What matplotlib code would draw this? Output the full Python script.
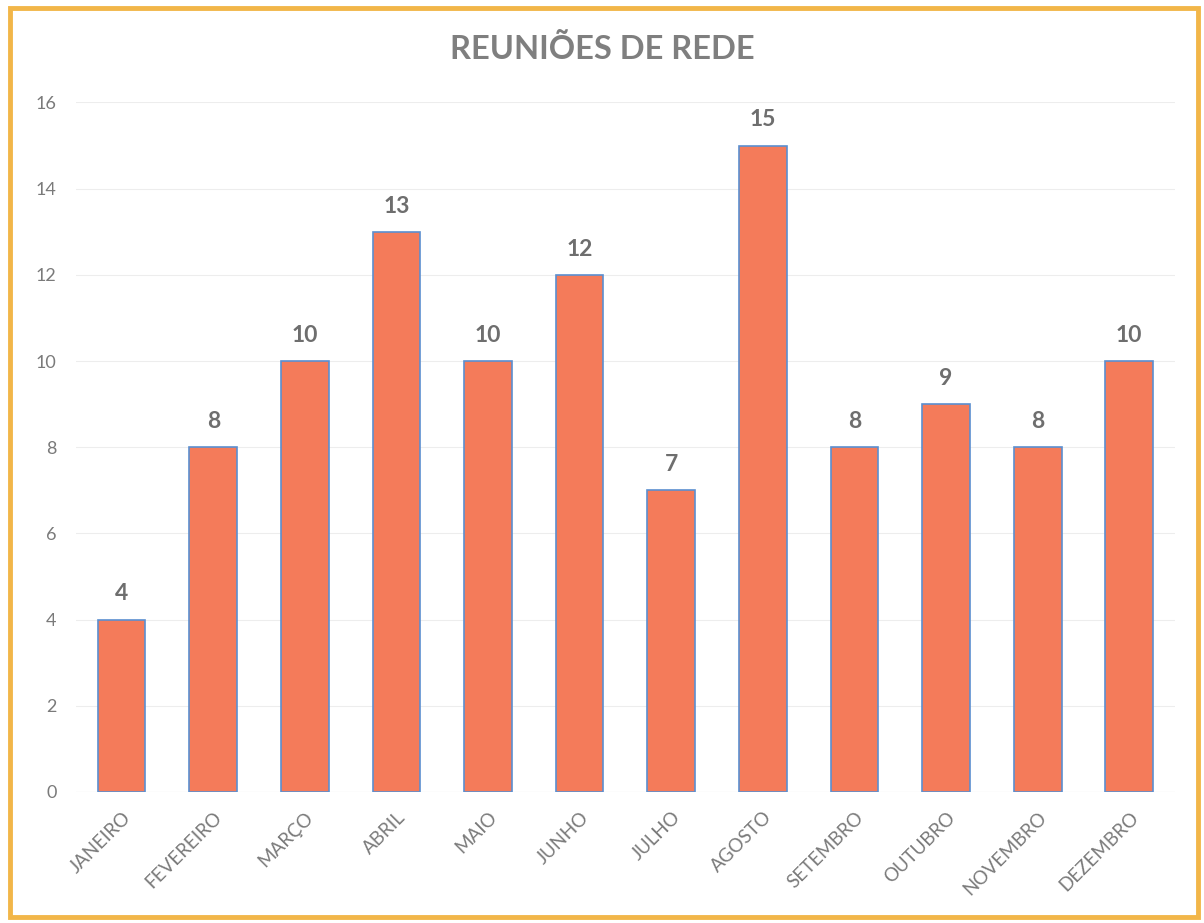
import matplotlib
matplotlib.use("Agg")
import matplotlib.pyplot as plt
from matplotlib.patches import Rectangle
from matplotlib.transforms import ScaledTranslation

months = ["JANEIRO", "FEVEREIRO", "MARÇO", "ABRIL", "MAIO", "JUNHO",
          "JULHO", "AGOSTO", "SETEMBRO", "OUTUBRO", "NOVEMBRO", "DEZEMBRO"]
values = [4, 8, 10, 13, 10, 12, 7, 15, 8, 9, 8, 10]
yticks = [0, 2, 4, 6, 8, 10, 12, 14, 16]
title = "REUNIÕES DE REDE"

plt.rcParams['font.family'] = ['Lato', 'DejaVu Sans']

fig = plt.figure(figsize=(12.04, 9.23), dpi=100)
ax = fig.add_axes([0.063, 0.142, 0.913, 0.747])

x = range(len(months))
ax.bar(x, values, width=0.52, color="#F47B5A", edgecolor="#5B8FD0", linewidth=1.2, zorder=3)
for xi, v in zip(x, values):
    ax.text(xi, v + 0.35, str(v), ha="center", va="bottom", fontsize=16.5,
            fontweight="bold", color="#6E6E6E")

ax.set_xlim(-0.5, len(months) - 0.5)
ax.set_ylim(0, 16)
ax.set_yticks(yticks)
ax.set_yticklabels([str(t) for t in yticks], fontsize=13, color="#7A7A7A")
ax.set_xticks(list(x))
ax.set_xticklabels(months, rotation=45, ha="right", rotation_mode="anchor",
                   fontsize=13.5, color="#7A7A7A")
offset = ScaledTranslation(0.12, 0, fig.dpi_scale_trans)
for lbl in ax.get_xticklabels():
    lbl.set_transform(lbl.get_transform() + offset)
ax.tick_params(axis="both", length=0, pad=12)
ax.tick_params(axis="y", pad=14)
ax.grid(axis="y", color="#EDEDED", linewidth=0.8, zorder=0)
for s in ax.spines.values():
    s.set_visible(False)
ax.axhline(0, color="#E4E4E4", linewidth=0.8, zorder=1)

fig.text(0.5, 0.947, title, ha="center", va="center", fontsize=23.5,
         fontweight="bold", color="#7F7F7F")

fig.patches.append(Rectangle((0.008, 0.006), 0.987, 0.985, transform=fig.transFigure,
                             fill=False, edgecolor="#F2B649", linewidth=3.5))

fig.savefig("out.png", dpi=100)
